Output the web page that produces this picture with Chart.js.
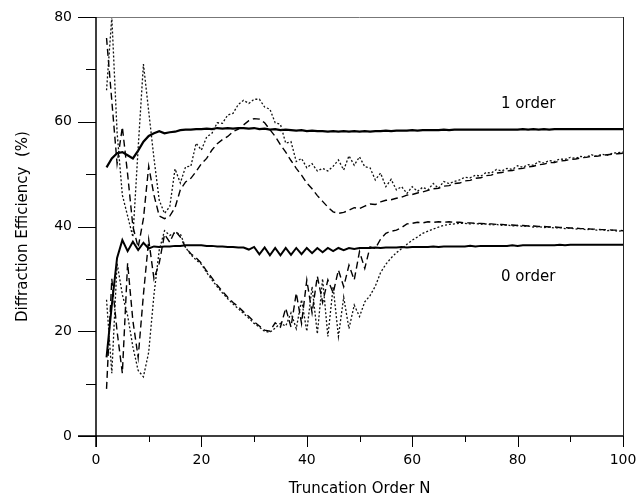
<!DOCTYPE html>
<html lang="en">
<head>
<meta charset="UTF-8">
<title>Diffraction Efficiency</title>
<script src="https://cdn.jsdelivr.net/npm/chart.js@4.4.0/dist/chart.umd.min.js"></script>
<style>
  body { margin: 0; background: #fff; }
</style>
</head>
<body>
<canvas id="chart" width="639" height="500"></canvas>
<script>
// truncation order N
const orders = [2,3,4,5,6,7,8,9,10,11,12,13,14,15,16,17,18,19,20,21,22,23,24,25,26,27,28,29,30,31,32,33,34,35,36,37,38,39,40,41,42,43,44,45,46,47,48,49,50,51,52,53,54,55,56,57,58,59,60,61,62,63,64,65,66,67,68,69,70,71,72,73,74,75,76,77,78,79,80,81,82,83,84,85,86,87,88,89,90,91,92,93,94,95,96,97,98,99,100];

// 1 order, solid curve
const solid1 = [51.3,53.0,54.0,54.2,53.6,53.0,54.5,56.2,57.3,57.8,58.2,57.8,58.0,58.1,58.4,58.5,58.5,58.6,58.6,58.7,58.6,58.8,58.7,58.8,58.7,58.8,58.8,58.7,58.8,58.6,58.7,58.5,58.6,58.4,58.5,58.4,58.3,58.4,58.2,58.3,58.2,58.2,58.1,58.2,58.1,58.2,58.1,58.2,58.1,58.2,58.1,58.2,58.2,58.3,58.2,58.3,58.3,58.3,58.4,58.3,58.4,58.4,58.4,58.4,58.5,58.4,58.5,58.5,58.5,58.5,58.5,58.5,58.5,58.5,58.5,58.5,58.5,58.5,58.5,58.6,58.5,58.6,58.5,58.6,58.5,58.6,58.6,58.6,58.6,58.6,58.6,58.6,58.6,58.6,58.6,58.6,58.6,58.6,58.6];
// 1 order, dashed curve
const dashed1 = [76,64,52,59,50,40,36,41.5,51.5,46,42,41.5,42,43.6,47,48.5,49.2,50.5,52,53,54.6,55.8,56.6,57.2,58.1,58.6,59.4,60.2,60.6,60.5,59.8,58.5,57.2,55.6,54.2,52.6,51.1,49.8,48.3,47.2,45.9,44.8,43.7,42.8,42.5,42.7,43.1,43.6,43.4,43.9,44.3,44.2,44.7,45.0,45.1,45.4,45.6,46.0,46.1,46.4,46.6,46.9,47.2,47.3,47.7,47.8,48.2,48.3,48.7,48.8,49.2,49.3,49.7,49.8,50.2,50.3,50.6,50.7,51.0,51.1,51.4,51.5,51.8,51.9,52.2,52.2,52.5,52.6,52.8,52.9,53.1,53.2,53.4,53.4,53.6,53.7,53.8,53.9,54.0];
// 1 order, dotted curve
const dotted1 = [66,80,58,46,42,38,55,71,62,53,45,42.5,43.8,51,48.3,51.4,51.5,55.9,54.6,57.1,57.8,59.8,59.7,61.3,61.6,63.3,64.1,63.5,64.3,64.3,62.8,62.4,59.8,59.5,55.9,56.2,52.4,53.0,51.2,52.0,50.6,51.1,50.6,51.5,52.7,50.8,53.5,51.7,53.3,51.4,51.2,48.9,50.2,47.6,49.0,47.0,47.6,46.3,47.6,46.7,47.5,47.0,48.2,47.3,48.6,48.2,48.6,48.9,49.4,49.3,49.8,49.6,50.3,50.2,50.9,50.6,51.1,50.9,51.6,51.3,51.8,51.7,52.4,52.1,52.6,52.4,52.9,52.8,53.2,53.0,53.4,53.2,53.7,53.4,53.8,53.6,54.0,54.1,54.2];

// 0 order, solid curve
const solid0 = [15.0,25.0,34.0,37.4,35.3,37.1,35.5,36.9,35.8,36.2,36.1,36.2,36.2,36.3,36.3,36.4,36.4,36.4,36.4,36.3,36.3,36.2,36.2,36.1,36.1,36.0,36.0,35.6,36.1,34.7,36.0,34.5,35.9,34.5,35.9,34.6,35.9,34.7,35.9,34.9,35.9,35.1,35.9,35.3,35.9,35.5,35.9,35.7,35.9,35.9,35.9,36.0,35.9,36.0,36.0,36.0,36.1,36.0,36.1,36.1,36.1,36.1,36.2,36.1,36.2,36.2,36.2,36.2,36.2,36.3,36.2,36.3,36.3,36.3,36.3,36.3,36.3,36.4,36.3,36.4,36.4,36.4,36.4,36.4,36.4,36.4,36.5,36.4,36.5,36.5,36.5,36.5,36.5,36.5,36.5,36.5,36.5,36.5,36.5];
// 0 order, dashed curve
const dashed0 = [9,30,20,12,33,22,15,27,37.5,30,33,38.5,37,39.2,38,36,34.8,34,33,31.5,30.2,28.8,27.6,26.5,25.5,24.7,23.7,22.8,21.8,21.0,20.2,20.0,21.6,20.8,24.4,20.8,27.3,21.5,29.8,23.5,30.5,25.5,29.8,27.3,31.7,28.5,32.6,29.8,35.2,32.0,36.1,35.8,37.6,38.7,39.1,39.3,39.8,40.5,40.6,40.8,40.7,40.9,40.8,40.9,40.8,40.9,40.8,40.8,40.7,40.7,40.6,40.6,40.5,40.5,40.4,40.4,40.3,40.3,40.2,40.2,40.1,40.1,40.0,40.0,39.9,39.9,39.8,39.8,39.7,39.7,39.6,39.6,39.5,39.5,39.4,39.4,39.3,39.3,39.2];
// 0 order, dotted curve
const dotted0 = [26,12,33,27,23,17,12.5,11.3,16,27,35.5,39.2,38.3,38.8,38.6,36,34.6,33.6,32.8,31.2,29.8,28.5,27.3,26.2,25.2,24.3,23.4,22.5,21.5,20.8,20.0,19.8,20.6,21.5,21.0,23.5,20.5,26.0,20.0,28.5,19.5,30.0,19.0,28.5,19.0,26.5,20.5,25.0,22.8,25.6,26.8,28.6,31.2,32.8,34.0,35.0,35.8,36.6,37.4,38.0,38.7,39.1,39.5,39.9,40.2,40.4,40.5,40.6,40.6,40.5,40.6,40.4,40.5,40.3,40.4,40.2,40.3,40.1,40.2,40.0,40.1,39.9,40.0,39.8,39.9,39.7,39.8,39.6,39.7,39.5,39.6,39.4,39.5,39.3,39.4,39.2,39.3,39.1,39.2];

const yTicks = [0, 20, 40, 60, 80];
const xTicks = [0, 20, 40, 60, 80, 100];
const notes = [
  { text: '1 order', x: 82, y: 63.4 },
  { text: '0 order', x: 82, y: 30.4 }
];

const FONT = '"DejaVu Sans", Verdana, sans-serif';

function pts(arr) {
  return orders.map((n, i) => ({ x: n, y: arr[i] }));
}

function line(data, width, dash, color) {
  return {
    data: pts(data),
    borderColor: color,
    borderWidth: width,
    borderDash: dash,
    pointRadius: 0,
    tension: 0,
    fill: false
  };
}

// axes, ticks, frame and the two text notes
const decor = {
  id: 'decor',
  afterDraw(chart) {
    const ctx = chart.ctx;
    const xs = chart.scales.x, ys = chart.scales.y;
    const a = chart.chartArea;
    ctx.save();
    // frame top and right
    ctx.strokeStyle = '#777';
    ctx.lineWidth = 1;
    ctx.beginPath();
    ctx.moveTo(a.left, a.top + 0.5);
    ctx.lineTo(a.right, a.top + 0.5);
    ctx.stroke();
    ctx.strokeStyle = '#222';
    ctx.beginPath();
    ctx.moveTo(a.right + 0.5, a.top);
    ctx.lineTo(a.right + 0.5, a.bottom);
    ctx.stroke();
    // main axes
    ctx.strokeStyle = '#000';
    ctx.lineWidth = 1.5;
    ctx.beginPath();
    ctx.moveTo(a.left, a.top);
    ctx.lineTo(a.left, a.bottom + 11);
    ctx.moveTo(a.left - 18, a.bottom);
    ctx.lineTo(a.right, a.bottom);
    ctx.stroke();
    // y ticks
    ctx.lineWidth = 1;
    for (let v = 0; v <= 80; v += 10) {
      const py = Math.round(ys.getPixelForValue(v)) + 0.5;
      const len = v % 20 === 0 ? 18 : 10;
      ctx.beginPath();
      ctx.moveTo(a.left - len, py);
      ctx.lineTo(a.left, py);
      ctx.stroke();
    }
    // x ticks
    for (let v = 0; v <= 100; v += 10) {
      const px = Math.round(xs.getPixelForValue(v)) + 0.5;
      const len = v % 20 === 0 ? 11 : 6;
      ctx.beginPath();
      ctx.moveTo(px, a.bottom);
      ctx.lineTo(px, a.bottom + len);
      ctx.stroke();
    }
    // notes
    ctx.fillStyle = '#000';
    ctx.font = '15px ' + FONT;
    ctx.textAlign = 'center';
    ctx.textBaseline = 'middle';
    notes.forEach(n => {
      ctx.fillText(n.text, xs.getPixelForValue(n.x), ys.getPixelForValue(n.y));
    });
    ctx.restore();
  }
};

const ctx = document.getElementById('chart').getContext('2d');
new Chart(ctx, {
  type: 'line',
  data: {
    datasets: [
      line(dotted1, 1.3, [2, 2], '#111'),
      line(dashed1, 1.4, [7, 4], '#000'),
      line(solid1, 2.2, [], '#000'),
      line(dotted0, 1.3, [2, 2], '#111'),
      line(dashed0, 1.4, [7, 4], '#000'),
      line(solid0, 2.0, [], '#000')
    ]
  },
  options: {
    responsive: false,
    animation: false,
    layout: { padding: { top: 17, right: 16, left: 0, bottom: 0 } },
    plugins: { legend: { display: false }, tooltip: { enabled: false } },
    scales: {
      x: {
        type: 'linear',
        min: 0,
        max: 100,
        afterFit(s) { s.height = 64; s.paddingLeft = 0; s.paddingRight = 0; },
        afterBuildTicks(s) { s.ticks = xTicks.map(v => ({ value: v })); },
        grid: { display: false, drawTicks: false },
        border: { display: false },
        ticks: { padding: 16, color: '#000', font: { family: FONT, size: 14 }, maxRotation: 0 },
        title: { display: true, text: 'Truncation Order N', color: '#000', font: { family: FONT, size: 15 }, padding: { top: 0, bottom: 2 } }
      },
      y: {
        min: 0,
        max: 80,
        afterFit(s) { s.width = 96; s.paddingTop = 0; s.paddingBottom = 0; },
        afterBuildTicks(s) { s.ticks = yTicks.map(v => ({ value: v })); },
        grid: { display: false, drawTicks: false },
        border: { display: false },
        ticks: { padding: 24, color: '#000', font: { family: FONT, size: 14 } },
        title: { display: true, text: 'Diffraction Efficiency  (%)', color: '#000', font: { family: FONT, size: 15 }, padding: { top: 14, bottom: 0 } }
      }
    }
  },
  plugins: [decor]
});
</script>
</body>
</html>
